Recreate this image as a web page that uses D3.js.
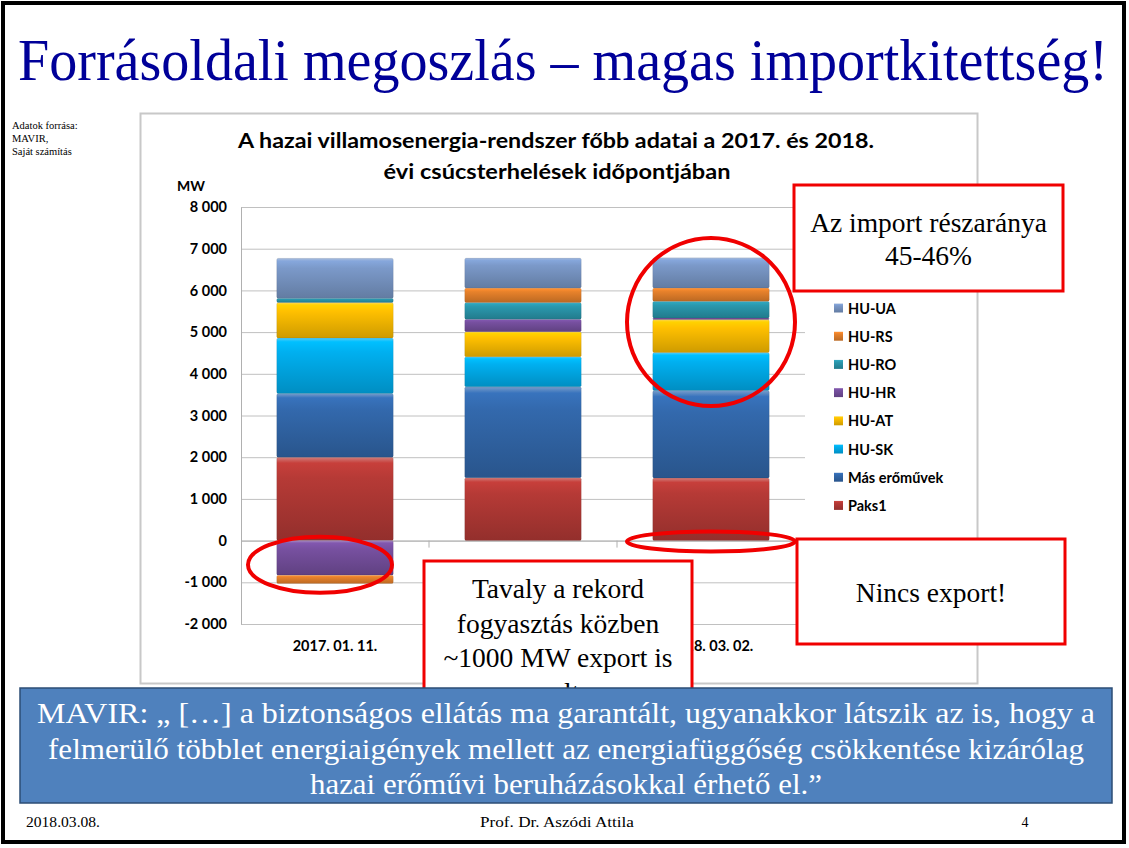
<!DOCTYPE html>
<html><head><meta charset="utf-8">
<script src="https://cdn.jsdelivr.net/npm/d3@7"></script>
<style>body{margin:0;background:#fff}svg{display:block}</style></head>
<body><svg id="c" width="1129" height="848"></svg>
<script>
// ---- data ----
const categories = ["2017. 01. 11.", "2018. 02. 28.", "2018. 03. 02."];
const seriesNames = ["Paks1", "Más erőművek", "HU-SK", "HU-AT", "HU-HR", "HU-RO", "HU-RS", "HU-UA"];
const paks1  = [2000, 1510, 1500];
const masEro = [1530, 2180, 2100];
const huSK   = [1330, 720, 910];
const huAT   = [850, 600, 790];
const huHR   = [-830, 300, 40];
const huRO   = [100, 400, 400];
const huRS   = [-200, 345, 320];
const huUA   = [960, 720, 720];
const yTicks = [-2000, -1000, 0, 1000, 2000, 3000, 4000, 5000, 6000, 7000, 8000];
const colors = ["#b63a36", "#3369ad", "#00b0f0", "#ffc000", "#7750a0", "#2a98ae", "#e8822b", "#7b99c9"];

const seriesVals = [paks1, masEro, huSK, huAT, huHR, huRO, huRS, huUA];
const table = categories.map((c, i) => {
  const o = {cat: c};
  seriesNames.forEach((s, k) => o[s] = seriesVals[k][i]);
  return o;
});

const svg = d3.select("#c");
const defs = svg.append("defs");
seriesNames.forEach((s, k) => {
  const base = d3.color(colors[k]);
  const g = defs.append("linearGradient").attr("id", "g" + k).attr("x1", 0).attr("y1", 0).attr("x2", 0).attr("y2", 1);
  g.append("stop").attr("offset", "0").attr("stop-color", d3.interpolateRgb(base, "#fff")(0.35));
  g.append("stop").attr("offset", "0.07").attr("stop-color", base.brighter(0.25));
  g.append("stop").attr("offset", "0.25").attr("stop-color", base);
  g.append("stop").attr("offset", "1").attr("stop-color", base.darker(0.6));
});

// slide background
svg.append("rect").attr("width", 1129).attr("height", 848).attr("fill", "#fff");

// title
svg.append("text").attr("x", 18).attr("y", 80)
  .attr("font-family", "Liberation Serif, Times New Roman, serif").attr("font-size", 60)
  .attr("fill", "#000099").attr("textLength", 1090).attr("lengthAdjust", "spacingAndGlyphs")
  .text("Forrásoldali megoszlás – magas importkitettség!");

// source note
const src = svg.append("text").attr("font-family", "Liberation Serif, serif").attr("font-size", 10.5).attr("fill", "#000");
["Adatok forrása:", "MAVIR,", "Saját számítás"].forEach((t, i) =>
  src.append("tspan").attr("x", 12).attr("y", 129 + i * 13).text(t));

// chart area
svg.append("rect").attr("x", 140.5).attr("y", 113.5).attr("width", 837).attr("height", 570)
  .attr("fill", "#fff").attr("stroke", "#c8c8c8").attr("stroke-width", 2);

const ctitle = svg.append("g").attr("font-family", "Lato, Open Sans, sans-serif").attr("font-weight", "bold")
  .attr("font-size", 20).attr("fill", "#000").attr("text-anchor", "middle");
ctitle.append("text").attr("x", 556).attr("y", 148).attr("textLength", 636).attr("lengthAdjust", "spacingAndGlyphs")
  .text("A hazai villamosenergia-rendszer főbb adatai a 2017. és 2018.");
ctitle.append("text").attr("x", 557).attr("y", 179).attr("textLength", 347).attr("lengthAdjust", "spacingAndGlyphs")
  .text("évi csúcsterhelések időpontjában");

svg.append("text").attr("x", 177).attr("y", 191).attr("font-family", "Lato, sans-serif").attr("font-weight", "bold")
  .attr("font-size", 14).text("MW");

const x = d3.scaleBand().domain(categories).range([241, 805]).paddingInner(0.38).paddingOuter(0.19);
const y = d3.scaleLinear().domain([-2000, 8000]).range([624, 207]);

const loc = d3.formatLocale({decimal: ",", thousands: " ", grouping: [3], currency: ["", ""], minus: "-"});
const fmt = loc.format(",d");

// grid
const grid = svg.append("g").attr("transform", "translate(241,0)")
  .call(d3.axisLeft(y).tickValues(yTicks).tickSize(-564).tickFormat(""));
grid.selectAll(".tick line").attr("stroke", "#c0c0c0").attr("stroke-width", 1);
grid.select(".domain").remove();
// y axis
const ya = svg.append("g").attr("transform", "translate(241,0)")
  .call(d3.axisLeft(y).tickValues(yTicks).tickSize(0).tickPadding(14).tickFormat(fmt));
ya.select(".domain").attr("stroke", "#b0b0b0");
ya.selectAll("text").attr("font-family", "Lato, sans-serif").attr("font-weight", "bold").attr("font-size", 14.5).attr("fill", "#000");

// x axis at zero
const xa = svg.append("g").attr("transform", `translate(0,${y(0)})`)
  .call(d3.axisBottom(x).tickSize(0).tickFormat(""));
xa.select(".domain").attr("stroke", "#b0b0b0");
const step = x.step();
svg.append("g").selectAll("line").data(categories.slice(1)).join("line")
  .attr("x1", d => x(d) - (step - x.bandwidth()) / 2).attr("x2", d => x(d) - (step - x.bandwidth()) / 2)
  .attr("y1", y(0)).attr("y2", y(0) + 7).attr("stroke", "#b0b0b0");
svg.append("g").selectAll("text").data(categories).join("text")
  .attr("x", d => x(d) + x.bandwidth() / 2).attr("y", 651).attr("text-anchor", "middle")
  .attr("font-family", "Lato, sans-serif").attr("font-weight", "bold").attr("font-size", 14.5).text(d => d);

// stacked bars
const stack = d3.stack().keys(seriesNames).offset(d3.stackOffsetDiverging)(table);
svg.append("g").selectAll("g").data(stack).join("g")
  .attr("fill", (d, i) => `url(#g${i})`)
  .selectAll("rect").data(d => d).join("rect")
  .attr("x", d => x(d.data.cat)).attr("width", x.bandwidth())
  .attr("y", d => y(Math.max(d[0], d[1])))
  .attr("height", d => Math.abs(y(d[0]) - y(d[1])))
  .attr("rx", 1.5)
  .attr("stroke", "rgba(0,0,0,0.12)").attr("stroke-width", 0.6);

// legend
const legOrder = seriesNames.slice().reverse();
const leg = svg.append("g").selectAll("g").data(legOrder).join("g")
  .attr("transform", (d, i) => `translate(834,${308 + i * 28.2})`);
leg.append("rect").attr("x", 0).attr("y", -4.5).attr("width", 9).attr("height", 9)
  .attr("fill", d => `url(#g${seriesNames.indexOf(d)})`);
leg.append("text").attr("x", 14).attr("y", 5.5).attr("font-family", "Lato, sans-serif").attr("font-weight", "bold")
  .attr("font-size", 14.5).text(d => d);

// red ellipses
const red = "#f00000";
const bw = x.bandwidth();
svg.append("ellipse").attr("cx", x(categories[0]) + bw / 2 - 15).attr("cy", y(-580)).attr("rx", 72).attr("ry", 28)
  .attr("fill", "none").attr("stroke", red).attr("stroke-width", 4);
svg.append("ellipse").attr("cx", x(categories[2]) + bw / 2).attr("cy", y(5240)).attr("rx", 84).attr("ry", 84)
  .attr("fill", "none").attr("stroke", red).attr("stroke-width", 4);
svg.append("ellipse").attr("cx", x(categories[2]) + bw / 2).attr("cy", y(-20)).attr("rx", 84).attr("ry", 10)
  .attr("fill", "none").attr("stroke", red).attr("stroke-width", 4);

// callout boxes
function callout(x0, y0, w, h, lines, baseY, lh) {
  svg.append("rect").attr("x", x0).attr("y", y0).attr("width", w).attr("height", h)
    .attr("fill", "#fff").attr("stroke", red).attr("stroke-width", 3);
  const t = svg.append("text").attr("font-family", "Liberation Serif, Times New Roman, serif").attr("font-size", 27.5)
    .attr("text-anchor", "middle").attr("fill", "#000");
  lines.forEach((l, i) => t.append("tspan").attr("x", x0 + w / 2).attr("y", baseY + i * lh).text(l));
}
callout(794, 185, 269, 106, ["Az import részaránya", "45-46%"], 232, 33);
callout(797, 539, 268, 105, ["Nincs export!"], 602, 0);
callout(424, 561, 268, 160, ["Tavaly a rekord", "fogyasztás közben", "~1000 MW export is", "volt"], 598, 34.5);

// quote box
svg.append("rect").attr("x", 20).attr("y", 688).attr("width", 1092).attr("height", 115)
  .attr("fill", "#4f81bd").attr("stroke", "#2c4d75").attr("stroke-width", 1.5);
const q = svg.append("text").attr("font-family", "Liberation Serif, Times New Roman, serif").attr("font-size", 30)
  .attr("fill", "#fff").attr("text-anchor", "middle");
[["MAVIR: „ […] a biztonságos ellátás ma garantált, ugyanakkor látszik az is, hogy a", 723, 1058],
 ["felmerülő többlet energiaigények mellett az energiafüggőség csökkentése kizárólag", 759, 1036],
 ["hazai erőművi beruházásokkal érhető el.”", 794, 512]].forEach(([t, yy, w]) =>
  q.append("tspan").attr("x", 566).attr("y", yy).attr("textLength", w).attr("lengthAdjust", "spacingAndGlyphs").text(t));

// footer
const ft = svg.append("g").attr("font-family", "Liberation Serif, Times New Roman, serif").attr("font-size", 14).attr("fill", "#000");
ft.append("text").attr("x", 26).attr("y", 827).attr("textLength", 74).attr("lengthAdjust", "spacingAndGlyphs").text("2018.03.08.");
ft.append("text").attr("x", 557).attr("y", 827).attr("text-anchor", "middle").attr("textLength", 154).attr("lengthAdjust", "spacingAndGlyphs").text("Prof. Dr. Aszódi Attila");
ft.append("text").attr("x", 1025).attr("y", 827).attr("text-anchor", "middle").text("4");

// slide frame
svg.append("rect").attr("x", 3).attr("y", 3).attr("width", 1121).attr("height", 839)
  .attr("fill", "none").attr("stroke", "#000").attr("stroke-width", 4);
</script></body></html>
